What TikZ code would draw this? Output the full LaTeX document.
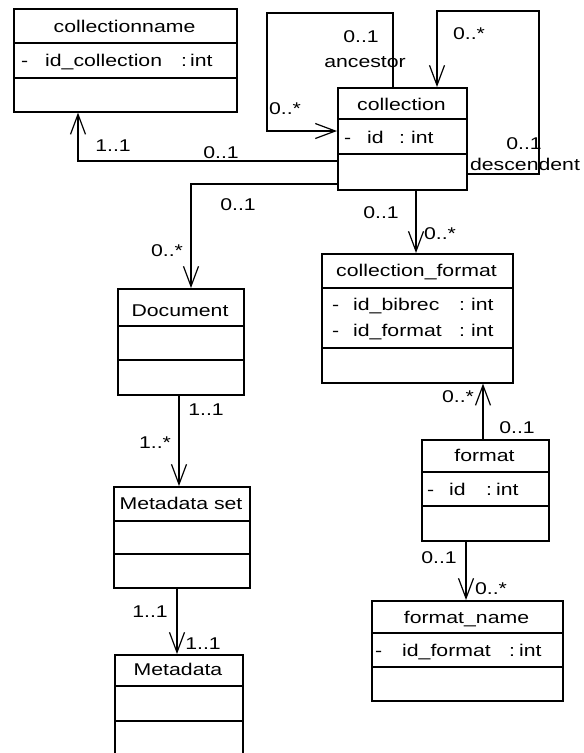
\documentclass[tikz,border=0pt]{standalone}
\usepackage{fontspec}
\setmainfont[FakeStretch=1.25]{Liberation Sans}
\usetikzlibrary{arrows.meta}
\begin{document}
\begin{tikzpicture}[x=1pt,y=-1pt,
  cls/.style={draw, line width=1.6pt, inner sep=0pt, anchor=north west},
  div/.style={line width=1.6pt},
  txt/.style={anchor=base, inner sep=0pt, font=\fontsize{17}{20}\selectfont},
  atr/.style={txt, anchor=base west},
  assoc/.style={line width=1.6pt, -{Straight Barb[length=20pt,width=15pt,line width=1.2pt]}}]
\useasboundingbox (0,0) rectangle (584,753);
\clip (0,0) rectangle (584,753);
\fill[white] (0,0) rectangle (584,753);

% collectionname
\node[cls, minimum width=223pt, minimum height=103pt] (cname) at (13,8) {};
\draw[div] (cname.west |- 0,43) -- (cname.east |- 0,43);
\draw[div] (cname.west |- 0,78) -- (cname.east |- 0,78);
\node[txt] (cname-t) at (124.5,32) {collectionname};
\node[atr] (cname-a) at (21,66) {\makebox[24pt][l]{-}\makebox[136pt][l]{id\_collection}\makebox[9pt][l]{:}int};

% collection
\node[cls, minimum width=129pt, minimum height=102pt] (coll) at (337,87) {};
\draw[div] (coll.west |- 0,119) -- (coll.east |- 0,119);
\draw[div] (coll.west |- 0,154) -- (coll.east |- 0,154);
\node[txt] (coll-t) at (401.5,110) {collection};
\node[atr] (coll-a) at (344,143) {\makebox[23pt][l]{-}\makebox[32pt][l]{id}\makebox[12pt][l]{:}int};

% collection_format
\node[cls, minimum width=191pt, minimum height=129pt] (cf) at (321,253) {};
\draw[div] (cf.west |- 0,288) -- (cf.east |- 0,288);
\draw[div] (cf.west |- 0,348) -- (cf.east |- 0,348);
\node[txt] (cf-t) at (416.5,276) {collection\_format};
\node[atr] (cf-a1) at (332,310) {\makebox[21pt][l]{-}\makebox[106pt][l]{id\_bibrec}\makebox[12pt][l]{:}int};
\node[atr] (cf-a2) at (332,336) {\makebox[21pt][l]{-}\makebox[106pt][l]{id\_format}\makebox[12pt][l]{:}int};

% Document
\node[cls, minimum width=126pt, minimum height=106pt] (doc) at (117,288) {};
\draw[div] (doc.west |- 0,326) -- (doc.east |- 0,326);
\draw[div] (doc.west |- 0,360) -- (doc.east |- 0,360);
\node[txt] (doc-t) at (180,316) {Document};

% format
\node[cls, minimum width=127pt, minimum height=101pt] (fmt) at (421,439) {};
\draw[div] (fmt.west |- 0,472) -- (fmt.east |- 0,472);
\draw[div] (fmt.west |- 0,506) -- (fmt.east |- 0,506);
\node[txt] (fmt-t) at (484.5,461) {format};
\node[atr] (fmt-a) at (427,495) {\makebox[22pt][l]{-}\makebox[37pt][l]{id}\makebox[10pt][l]{:}int};

% format_name
\node[cls, minimum width=191pt, minimum height=100pt] (fname) at (371,600) {};
\draw[div] (fname.west |- 0,633) -- (fname.east |- 0,633);
\draw[div] (fname.west |- 0,667) -- (fname.east |- 0,667);
\node[txt] (fname-t) at (466.5,623) {format\_name};
\node[atr] (fname-a) at (375,656) {\makebox[27pt][l]{-}\makebox[107pt][l]{id\_format}\makebox[10pt][l]{:}int};

% Metadata set
\node[cls, minimum width=136pt, minimum height=101pt] (mset) at (113,486) {};
\draw[div] (mset.west |- 0,521) -- (mset.east |- 0,521);
\draw[div] (mset.west |- 0,554) -- (mset.east |- 0,554);
\node[txt] (mset-t) at (181,509) {Metadata set};

% Metadata
\node[cls, minimum width=128pt, minimum height=136pt] (meta) at (114,654) {};
\draw[div] (meta.west |- 0,686) -- (meta.east |- 0,686);
\draw[div] (meta.west |- 0,721) -- (meta.east |- 0,721);
\node[txt] (meta-t) at (178,675) {Metadata};

% connectors
\coordinate (anc) at (267,13);
\coordinate (desc) at (539,11);
\draw[assoc] (coll.west |- 0,161) -| (cname.south -| 78,0);
\draw[assoc] (coll.west |- 0,184) -| (doc.north -| 191,0);
\draw[assoc] (coll.south -| 416,0) -- (cf.north -| 416,0);
\draw[assoc] (fmt.north -| 483,0) -- (cf.south -| 483,0);
\draw[assoc] (fmt.south -| 466,0) -- (fname.north -| 466,0);
\draw[assoc] (doc.south -| 179,0) -- (mset.north -| 179,0);
\draw[assoc] (mset.south -| 177,0) -- (meta.north -| 177,0);
\draw[assoc] (coll.north -| 393,0) |- (anc) |- (coll.west |- 0,131);
\draw[assoc] (coll.east |- 0,174) -| (desc) -| (coll.north -| 437,0);

% multiplicities
\node[txt] (m1) at (113,151) {1..1};
\node[txt] (m2) at (221,158) {0..1};
\node[txt] (m3) at (361,42) {0..1};
\node[txt] (m4) at (365,67) {ancestor};
\node[txt] (m5) at (285,114) {0..*};
\node[txt] (m6) at (469,39) {0..*};
\node[txt] (m7) at (524,149) {0..1};
\node[txt] (m8) at (525,170) {descendent};
\node[txt] (m9) at (238,210) {0..1};
\node[txt] (m10) at (167,256) {0..*};
\node[txt] (m11) at (381,218) {0..1};
\node[txt] (m12) at (440,239) {0..*};
\node[txt] (m13) at (458,402) {0..*};
\node[txt] (m14) at (517,433) {0..1};
\node[txt] (m15) at (439,563) {0..1};
\node[txt] (m16) at (491,594) {0..*};
\node[txt] (m17) at (206,415) {1..1};
\node[txt] (m18) at (155,448) {1..*};
\node[txt] (m19) at (150,617) {1..1};
\node[txt] (m20) at (203,649) {1..1};
\end{tikzpicture}
\end{document}
